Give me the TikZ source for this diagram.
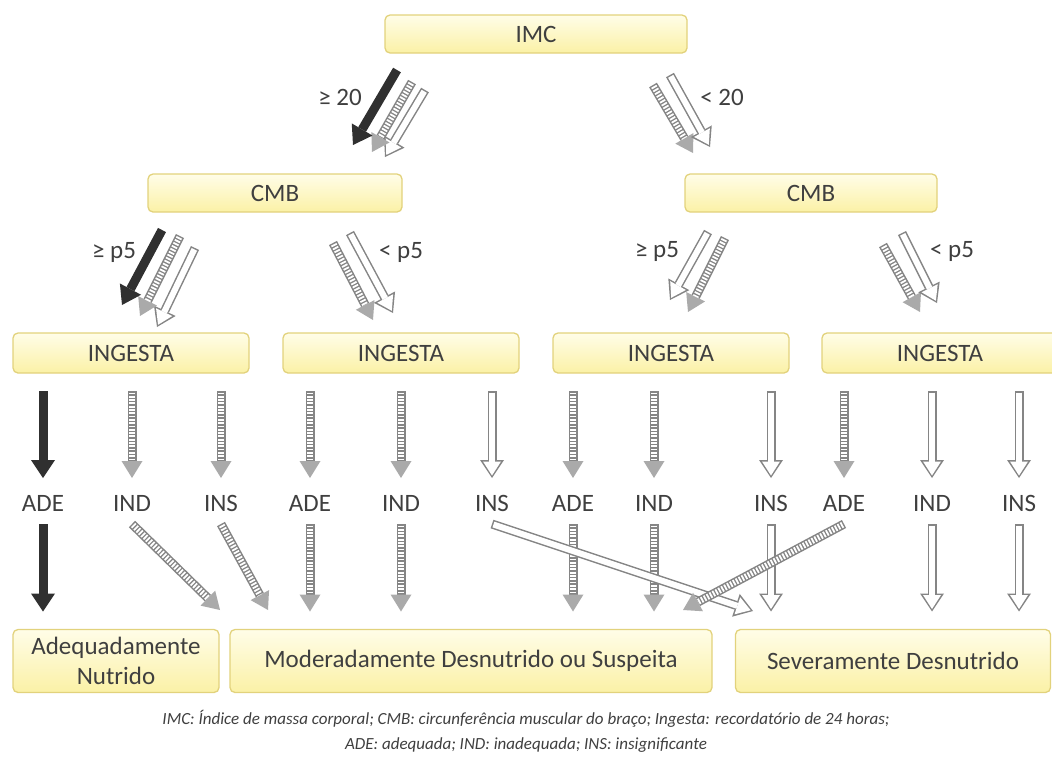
\documentclass[tikz,border=0pt]{standalone}
\usepackage{fontspec}
\setmainfont{Carlito}
\usetikzlibrary{arrows.meta}
\definecolor{boxtop}{HTML}{FFFDE8}
\definecolor{boxbot}{HTML}{FBF1A6}
\definecolor{boxline}{HTML}{E2D27C}
\definecolor{txt}{HTML}{3F3F3F}
\definecolor{arrdark}{HTML}{303030}
\definecolor{arrgray}{HTML}{858585}

\begin{document}
\begin{tikzpicture}[x=1pt, y=-1pt, every node/.style={outer sep=0pt, text=txt},
    box/.style={draw=boxline, line width=1.3pt, top color=boxtop, bottom color=boxbot,
      rounded corners=5pt, inner sep=0pt, align=center, font=\fontsize{25}{30}\selectfont},
    lab/.style={inner xsep=2pt, inner ysep=13pt, text height=16pt, text depth=0pt,
      font=\fontsize{25}{30}\selectfont},
    blackarr/.style={draw=arrdark, line width=9pt, -{Triangle[length=18pt,width=24pt,line width=0pt]}},
    whitearr/.style={draw=arrgray, line width=9pt, -{Triangle[length=18pt,width=24pt,line width=0pt]},
      postaction={draw=white, line width=6pt, shorten <=1.5pt, shorten >=2.5pt,
        -{Triangle[length=14pt,width=18pt,line width=0pt]}}},
    stripearr/.style={draw=arrgray, line width=9pt,
      -{Triangle[length=17pt,width=21pt,line width=0pt,color=arrgray!70]},
      postaction={draw=white, -, line width=6pt, dash pattern=on 1.8pt off 1.5pt,
        shorten <=1.5pt, shorten >=17pt}}]
    \useasboundingbox (0,0) rectangle (1052,769);

    % boxes
    \node (imc) [box, minimum width=302pt, minimum height=38pt] at (536,34) {IMC};
    \node (cmb1) [box, minimum width=254pt, minimum height=38pt] at (275,193) {CMB};
    \node (cmb2) [box, minimum width=252pt, minimum height=38pt] at (811,193) {CMB};
    \foreach \n/\x in {ing1/131,ing2/401,ing3/671,ing4/940}
      \node (\n) [box, minimum width=236pt, minimum height=40pt] at (\x,353) {INGESTA};
    \node (adq) [box, minimum width=206pt, minimum height=63pt] at (116,661) {Adequadamente\\Nutrido};
    \node (mod) [box, minimum width=482pt, minimum height=63pt] at (471,661) {Moderadamente Desnutrido ou Suspeita};
    \node (sev) [box, minimum width=315pt, minimum height=63pt] at (893,661) {Severamente Desnutrido};

    % cut-off labels
    \node (ge20) [lab] at (340,97) {≥ 20};
    \node (lt20) [lab] at (722,97) {< 20};
    \node (gep5a) [lab] at (114,250) {≥ p5};
    \node (ltp5a) [lab] at (401,250) {< p5};
    \node (gep5b) [lab] at (657,249) {≥ p5};
    \node (ltp5b) [lab] at (952,249) {< p5};

    % IMC -> CMB, CMB -> INGESTA
    \foreach \n/\s/\a/\b in {a1/whitearr/{425,90}/{385,157}, a2/stripearr/{412,82}/{372,152},
        a3/blackarr/{397,70}/{353,145}, a4/stripearr/{653,85}/{693,153}, a5/whitearr/{670,75}/{710,147},
        b1/whitearr/{195,248}/{157,327}, b2/stripearr/{180,236}/{140,316}, b3/blackarr/{162,230}/{122,305},
        b4/stripearr/{333,243}/{373,320}, b5/whitearr/{350,233}/{393,313},
        b6/whitearr/{708,232}/{670,300}, b7/stripearr/{725,238}/{688,312},
        b8/stripearr/{883,245}/{920,312}, b9/whitearr/{902,233}/{937,303}}
    {
      \coordinate (\n-s) at (\a);
      \coordinate (\n-e) at (\b);
      \draw[\s] (\n-s) -- (\n-e);
    }

    % ADE / IND / INS
    \foreach \n/\t/\x/\g/\s in {ade1/ADE/43/ing1/blackarr, ind1/IND/132/ing1/stripearr, ins1/INS/221/ing1/stripearr,
        ade2/ADE/310/ing2/stripearr, ind2/IND/401/ing2/stripearr, ins2/INS/492/ing2/whitearr,
        ade3/ADE/573/ing3/stripearr, ind3/IND/654/ing3/stripearr, ins3/INS/771/ing3/whitearr,
        ade4/ADE/844/ing4/stripearr, ind4/IND/932/ing4/whitearr, ins4/INS/1019/ing4/whitearr}
    {
      \node (\n) [lab] at (\x,503) {\t};
      \draw[\s] ([yshift=-18pt]\n |- \g.south) -- ([yshift=4pt]\n.north);
    }

    % down to the result
    \foreach \n/\b/\s in {ade1/adq/blackarr, ade2/mod/stripearr, ind2/mod/stripearr,
        ade3/mod/stripearr, ind3/mod/stripearr, ins3/sev/whitearr, ind4/sev/whitearr, ins4/sev/whitearr}
      \draw[\s] (\n.south) -- ([yshift=18pt]\n |- \b.north);
    \coordinate (d1) at (220,610);
    \coordinate (d2) at (268,610);
    \coordinate (d3) at (753,611);
    \coordinate (d4) at (683,610);
    \draw[stripearr] (ind1.south) -- (d1);
    \draw[stripearr] (ins1.south) -- (d2);
    \draw[whitearr] (ins2.south) -- (d3);
    \draw[stripearr] (ade4.south) -- (d4);

    \node (legend) [font=\fontsize{17}{25}\selectfont\itshape, align=center] at (526,731)
      {IMC: Índice de massa corporal; CMB: circunferência muscular do braço; Ingesta: recordatório de 24 horas;\\
       ADE: adequada; IND: inadequada; INS: insignificante};
\end{tikzpicture}
\end{document}
